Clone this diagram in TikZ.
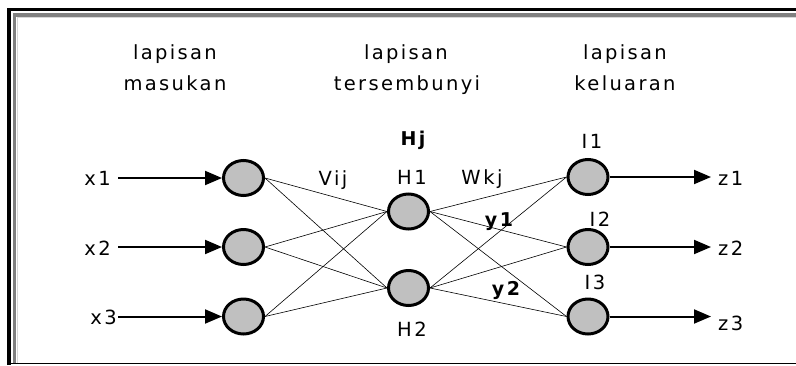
\documentclass[tikz,border=0pt]{standalone}
\usepackage{fontspec}
\setmainfont{DejaVu Sans}
\newfontfamily\hdrfont[LetterSpace=12]{DejaVu Sans}
\newfontfamily\lblfont[LetterSpace=13]{DejaVu Sans}
\usetikzlibrary{arrows.meta,shapes.geometric}
\definecolor{nodegray}{HTML}{C0C0C0}
\definecolor{framegray}{HTML}{808080}
\definecolor{framelight}{HTML}{D8D8D8}
\begin{document}
\begin{tikzpicture}[x=1pt,y=-1pt,
  neuron/.style={ellipse, draw=black, line width=3pt, fill=nodegray, minimum width=40pt, minimum height=35pt, inner sep=0pt},
  link/.style={line width=0.6pt},
  sigarrow/.style={line width=2pt, -{Triangle[length=17pt,width=14pt]}},
  hd/.style={font=\hdrfont\fontsize{19.5}{22}\selectfont, anchor=base, inner sep=0pt},
  lb/.style={font=\lblfont\fontsize{19.5}{21}\selectfont, anchor=base, inner sep=0pt},
  lbb/.style={font=\lblfont\bfseries\fontsize{19}{20}\selectfont, anchor=base, inner sep=0pt}
]
\useasboundingbox (0,0) rectangle (796,365);
% frame
\draw[line width=3.6pt] (8.7,365) -- (8.7,9.3) -- (796,9.3);
\draw[framegray, line width=3.2pt] (14.4,363) -- (14.4,15) -- (796,15);
\draw[framelight, line width=0.8pt] (17.3,363) -- (17.3,17.5) -- (796,17.5);
\draw[line width=1.7pt] (11,363.5) -- (796,363.5);

% headers
\node[hd] (h1a) at (175,59.5) {lapisan};
\node[hd] (h1b) at (175,90.7) {masukan};
\node[hd] (h2a) at (406,59.5) {lapisan};
\node[hd] (h2b) at (407,90.7) {tersembunyi};
\node[hd] (h3a) at (625,59.5) {lapisan};
\node[hd] (h3b) at (625,90.7) {keluaran};

% neurons
\node[neuron] (i1) at (243.5,178) {};
\node[neuron] (i2) at (243.5,247) {};
\node[neuron] (i3) at (243.5,316.5) {};
\node[neuron] (hh1) at (408.5,211.5) {};
\node[neuron] (hh2) at (408.5,288) {};
\node[neuron] (o1) at (588,177) {};
\node[neuron] (o2) at (588,247) {};
\node[neuron] (o3) at (588,316.5) {};

% input labels and arrows
\node[lb, anchor=base east] (x1) at (111,185) {x1};
\node[lb, anchor=base east] (x2) at (111,255) {x2};
\node[lb, anchor=base east] (x3) at (117,324) {x3};
\coordinate (s1) at (118,178);
\coordinate (s2) at (118,247);
\coordinate (s3) at (118,316.5);
\draw[sigarrow] (s1) -- (i1.west);
\draw[sigarrow] (s2) -- (i2.west);
\draw[sigarrow] (s3) -- (i3.west);

% output arrows and labels
\coordinate (e1) at (711,177);
\coordinate (e2) at (711,247);
\coordinate (e3) at (711,316.5);
\draw[sigarrow] (o1.east) -- (e1);
\draw[sigarrow] (o2.east) -- (e2);
\draw[sigarrow] (o3.east) -- (e3);
\node[lb, anchor=base west] (z1) at (718,185) {z1};
\node[lb, anchor=base west] (z2) at (718,255) {z2};
\node[lb, anchor=base west] (z3) at (718,330) {z3};

% links
\foreach \a in {i1,i2,i3}{
  \foreach \b in {hh1,hh2}{
    \draw[link] (\a.east) -- (\b.west);
  }
}
\foreach \a in {hh1,hh2}{
  \foreach \b in {o1,o2,o3}{
    \draw[link] (\a.east) -- (\b.west);
  }
}

% other labels
\node[lb] (vij) at (333,185) {Vij};
\node[lb] (lh1) at (412,184) {H1};
\node[lb] (wkj) at (482,184) {Wkj};
\node[lbb] (hj) at (413,145) {Hj};
\node[lb] (li1) at (592,148) {I1};
\node[lb] (li2) at (600,226) {I2};
\node[lb] (li3) at (595,289) {I3};
\node[lbb] (ly1) at (499,226) {y1};
\node[lbb] (ly2) at (506,295) {y2};
\node[lb] (lh2) at (412,336) {H2};
\end{tikzpicture}
\end{document}
